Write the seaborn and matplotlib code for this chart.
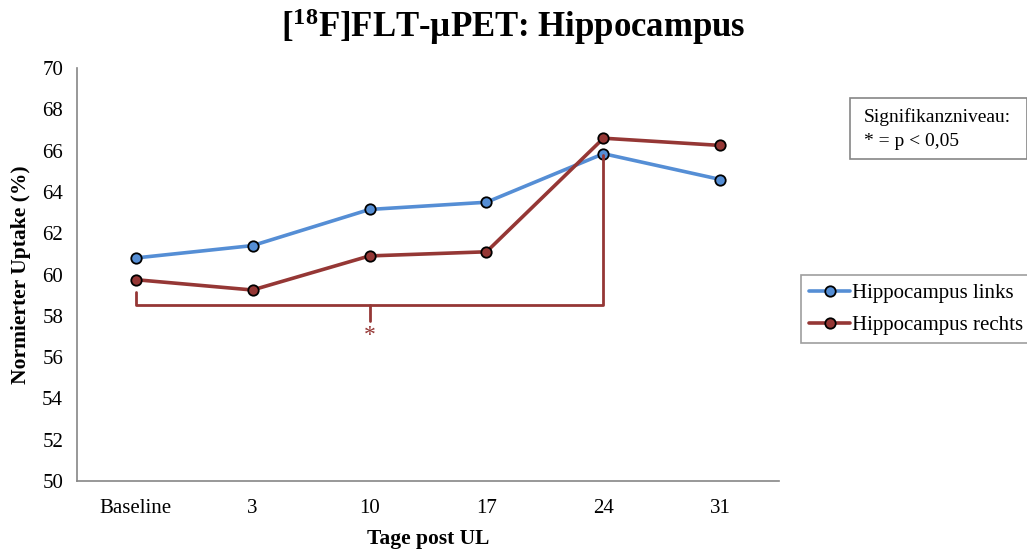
import matplotlib
matplotlib.use("Agg")
import matplotlib.pyplot as plt
import seaborn as sns
import pandas as pd
from matplotlib.patches import Rectangle

# ---- data ----
days = ["Baseline", "3", "10", "17", "24", "31"]
links = [60.8, 61.4, 63.15, 63.5, 65.85, 64.6]
rechts = [59.75, 59.25, 60.9, 61.1, 66.6, 66.25]
series_names = ["Hippocampus links", "Hippocampus rechts"]
colors = ["#558ED5", "#953735"]
note_lines = ["Signifikanzniveau:", "* = p < 0,05"]

sns.set_theme(style="white")
plt.rcParams["font.family"] = ["Liberation Serif", "DejaVu Serif"]
plt.rcParams["mathtext.fontset"] = "custom"
plt.rcParams["mathtext.rm"] = "Liberation Serif"
plt.rcParams["mathtext.bf"] = "Liberation Serif:bold"
plt.rcParams["text.color"] = "black"
plt.rcParams["axes.labelcolor"] = "black"

df = pd.DataFrame({
    "Tag": days * 2,
    "Uptake": links + rechts,
    "Region": [series_names[0]] * len(days) + [series_names[1]] * len(days),
})

fig = plt.figure(figsize=(10.27, 5.51), dpi=100)
ax = fig.add_axes([0.075, 0.127, 0.6835, 0.7496])

sns.lineplot(data=df, x="Tag", y="Uptake", hue="Region", palette=colors,
             sort=False, marker="o", markersize=7.5, markeredgecolor="black",
             markeredgewidth=1.3, linewidth=2.6, ax=ax, legend=True)

ax.set_xlim(-0.5, len(days) - 0.5)
ax.set_ylim(50, 70)
ax.set_yticks(range(50, 71, 2))
ax.set_xticks(range(len(days)))
ax.set_xticklabels(days)

for s in ["top", "right"]:
    ax.spines[s].set_visible(False)
for s in ["left", "bottom"]:
    ax.spines[s].set_color("#868686")
    ax.spines[s].set_linewidth(1.2)
ax.tick_params(axis="both", which="major", length=5, width=1.0, color="#868686",
               labelsize=15, labelcolor="black", direction="out", pad=5)
ax.tick_params(axis="x", pad=8)
ax.grid(False)

ax.set_xlabel("Tage post UL", fontsize=15.5, fontweight="bold", labelpad=8)
ax.set_ylabel("Normierter Uptake (%)", fontsize=15.5, fontweight="bold", labelpad=8)

fig.text(0.5, 0.952, r"[$\mathbf{^{18}}$F]FLT-µPET: Hippocampus", ha="center",
         va="center", fontsize=25, fontweight="bold")

# significance bracket (Baseline .. 24, right hemisphere)
br_col = "#953735"
ax.plot([0, 0, 4, 4], [59.15, 58.5, 58.5, 65.8], color=br_col, lw=2.0,
        solid_joinstyle="round")
ax.plot([2, 2], [58.5, 57.75], color=br_col, lw=2.0)
ax.text(2, 57.05, "*", color=br_col, ha="center", va="center", fontsize=17)

# legend
h, l = ax.get_legend_handles_labels()
leg = ax.legend(h, l, loc="upper left", bbox_to_anchor=(801 / 1027, 1 - 275 / 551),
                bbox_transform=fig.transFigure, fontsize=15, frameon=True,
                fancybox=False, edgecolor="#868686", handlelength=1.95,
                handletextpad=0.12, borderpad=0.4, labelspacing=0.6,
                borderaxespad=0)
leg.get_frame().set_linewidth(1.2)
for line in leg.get_lines():
    line.set_linewidth(2.6)

# significance note box
fig.patches.append(Rectangle((850 / 1027, 1 - 159 / 551), 177 / 1027, 61 / 551,
                             transform=fig.transFigure, fill=False,
                             edgecolor="#868686", linewidth=1.2))
for i, txt in enumerate(note_lines):
    fig.text(864 / 1027, 1 - (117 + 24 * i) / 551, txt,
             ha="left", va="center", fontsize=14)

fig.savefig("out.png", dpi=100)
